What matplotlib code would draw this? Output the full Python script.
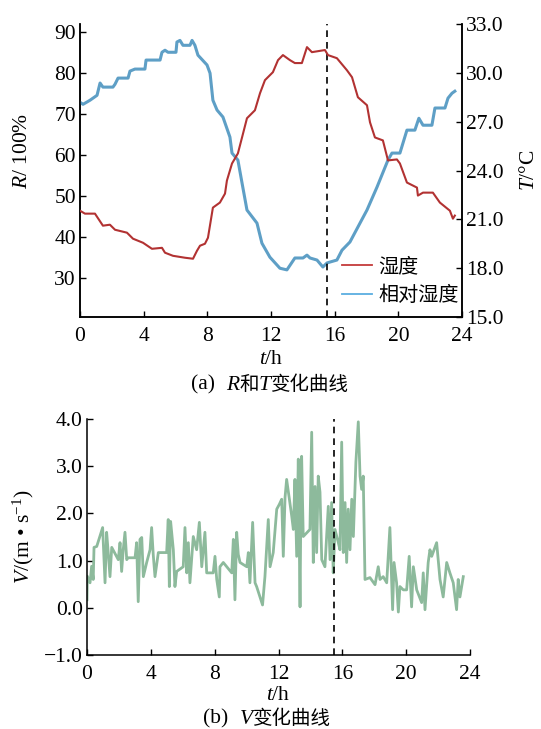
import numpy as np
import matplotlib.pyplot as plt
from matplotlib.offsetbox import TextArea, HPacker, AnchoredOffsetbox

plt.rcParams['font.family'] = ['Liberation Serif', 'Noto Sans CJK SC']
plt.rcParams['mathtext.fontset'] = 'custom'
plt.rcParams['mathtext.rm'] = 'Liberation Serif'
plt.rcParams['mathtext.it'] = 'Liberation Serif:italic'

# ---- data ----
# relative humidity R (left axis)
t_R = [0, 0.19, 0.63, 1.07, 1.26, 1.44, 2.07, 2.20, 2.39, 3.02, 3.14, 3.45, 4.08, 4.15,
       5.03, 5.15, 5.34, 5.53, 6.03, 6.09, 6.28, 6.47, 6.91, 7.04, 7.22, 7.41, 7.98, 8.17,
       8.35, 8.61, 8.98, 9.42, 9.55, 9.92, 10.18, 10.49, 11.12, 11.43, 11.93, 12.56, 13.00,
       13.50, 14.01, 14.26, 14.45, 14.89, 15.26, 15.52, 16.14, 16.46, 16.96, 17.59, 18.03,
       18.66, 19.35, 19.60, 20.10, 20.54, 21.04, 21.29, 21.55, 22.11, 22.30, 22.93, 23.12,
       23.37, 23.55]
R = [72.9, 72.4, 73.4, 74.6, 77.6, 76.6, 76.6, 77.3, 78.8, 78.8, 80.5, 81.0, 81.0, 83.2,
     83.2, 85.1, 85.6, 85.1, 85.1, 87.6, 88.0, 86.8, 86.8, 88.0, 86.8, 84.4, 82.0, 80.0,
     73.4, 71.0, 69.3, 64.4, 60.5, 58.8, 53.2, 46.6, 43.4, 38.5, 35.1, 32.4, 32.0,
     34.9, 34.9, 35.6, 34.9, 34.4, 32.7, 33.7, 34.4, 36.8, 38.8, 43.4, 46.6,
     52.2, 58.8, 60.5, 60.5, 66.1, 66.1, 69.0, 67.3, 67.3, 71.5, 71.5, 73.9,
     75.1, 75.6]

# temperature T (right axis)
t_T = [0, 0.31, 0.94, 1.44, 1.88, 2.20, 2.95, 3.33, 3.96, 4.52, 5.15, 5.34, 5.84, 6.60,
       7.10, 7.35, 7.54, 7.85, 8.04, 8.35, 8.79, 9.11, 9.23, 9.55, 9.92, 10.18, 10.49,
       10.99, 11.31, 11.62, 12.12, 12.44, 12.75, 13.19, 13.50, 13.94, 14.26, 14.57, 15.39,
       15.58, 16.14, 16.77, 17.09, 17.46, 18.03, 18.22, 18.53, 19.03, 19.35, 19.91, 20.10,
       20.54, 21.17, 21.23, 21.55, 22.17, 22.61, 23.24, 23.43, 23.55]
T = [21.53, 21.35, 21.35, 20.61, 20.67, 20.36, 20.18, 19.81, 19.56, 19.19, 19.25, 18.95,
     18.76, 18.64, 18.58, 19.07, 19.38, 19.50, 19.87, 21.72, 22.03, 22.58, 23.38, 24.43,
     25.05, 26.03, 27.21, 27.70, 28.75, 29.55, 30.04, 30.78, 31.09, 30.78, 30.60, 30.60,
     31.58, 31.27, 31.40, 31.09, 30.90, 30.16, 29.73, 28.50, 28.01, 26.96, 26.03, 25.85,
     24.62, 24.68, 24.43, 23.26, 22.95, 22.46, 22.64, 22.64, 22.03, 21.53, 21.04, 21.23]

# wind speed V
t_V = [0.0, 0.02, 0.19, 0.29, 0.39, 0.44, 0.61, 0.98, 1.13, 1.23, 1.33, 1.44, 1.55, 1.96,
       2.07, 2.17, 2.27, 2.38, 2.49, 2.57, 3.01, 3.11, 3.21, 3.32, 3.43, 3.53, 3.74, 3.95,
       4.05, 4.15, 4.26, 4.47, 4.99, 5.09, 5.16, 5.24, 5.41, 5.51, 5.62, 6.03, 6.14, 6.25,
       6.35, 6.45, 6.66, 6.87, 7.04, 7.19, 7.39, 7.50, 7.91, 8.02, 8.13, 8.29, 8.33, 8.54,
       9.07, 9.17, 9.27, 9.38, 9.48, 9.59, 10.01, 10.11, 10.21, 10.38, 10.53, 10.63, 11.0,
       11.15, 11.36, 11.47, 11.67, 11.89, 12.05, 12.20, 12.30, 12.41, 12.51, 12.83, 12.93,
       13.03, 13.14, 13.24, 13.35, 13.39, 13.45, 13.55, 13.97, 14.08, 14.18, 14.29, 14.39,
       14.49, 14.60, 14.71, 14.91, 15.12, 15.23, 15.33, 15.43, 15.54, 15.75, 15.85, 15.96,
       16.06, 16.17, 16.27, 16.37, 16.48, 16.59, 16.69, 16.85, 17.0, 17.11, 17.21, 17.31,
       17.42, 17.73, 18.05, 18.25, 18.36, 18.56, 18.78, 18.98, 19.15, 19.24, 19.40, 19.51,
       19.61, 19.82, 20.03, 20.19, 20.34, 20.45, 20.66, 20.97, 21.07, 21.18, 21.38, 21.49,
       21.60, 21.91, 22.12, 22.32, 22.54, 22.74, 22.95, 23.16, 23.26, 23.37, 23.58]
V = [0.17, 0.67, 0.53, 0.88, 0.60, 1.28, 1.30, 1.70, 0.53, 1.60, 1.17, 0.66, 1.28, 1.02,
     1.38, 0.77, 1.23, 1.60, 1.02, 1.06, 1.06, 1.38, 0.13, 1.45, 1.49, 0.66, 0.96, 1.23,
     1.70, 1.13, 0.66, 1.17, 1.17, 1.87, 0.45, 1.83, 1.23, 0.45, 0.77, 0.87, 1.70, 0.74,
     1.38, 0.53, 1.51, 1.23, 1.81, 0.87, 1.60, 0.74, 0.74, 1.09, 0.60, 0.23, 0.87, 0.96,
     0.74, 1.45, 0.17, 1.60, 1.13, 0.96, 0.87, 1.17, 0.53, 1.81, 0.53, 0.45, 0.06,
     0.66, 1.87, 0.87, 1.17, 2.09, 2.19, 2.30, 1.09, 2.34, 2.72, 1.94, 1.66,
     2.72, 1.09, 3.15, 0.02, 1.66, 3.21, 1.51, 1.66, 3.72, 0.96, 2.57, 1.17,
     2.79, 2.45, 1.02, 0.87, 2.15, 1.02, 2.23, 0.74, 1.66, 1.38, 1.23, 3.51,
     1.17, 2.23, 0.96, 2.09, 1.23, 2.30, 1.51, 3.09, 3.94, 2.79, 2.51, 2.79,
     0.60, 0.64, 0.49, 0.87, 0.60, 0.66, 0.53, 1.70, -0.04, 0.96, 0.53, -0.09,
     0.45, 0.38, 0.38, 1.09, 0.02, 0.87, 0.38, 0.11, 0.74, -0.04, 0.96, 1.23,
     1.09, 1.38, 0.60, 0.23, 0.96, 0.74, 0.53, -0.04, 0.60, 0.23, 0.66]

t_mark = 15.5
x_ticks = [0, 4, 8, 12, 16, 20, 24]
R_ticks = [30, 40, 50, 60, 70, 80, 90]
T_ticks = [15.0, 18.0, 21.0, 24.0, 27.0, 30.0, 33.0]
V_ticks = [-1.0, 0.0, 1.0, 2.0, 3.0, 4.0]

RED = '#b23232'
BLUE = '#5e9fc6'
GREEN = '#8dba9c'
FS = 15.5

W, H = 541, 729
fig = plt.figure(figsize=(W / 100, H / 100), dpi=100)


def style(ax):
    ax.tick_params(direction='in', length=4, width=1, labelsize=FS, pad=3)
    ax.tick_params(axis='x', pad=7)
    for s in ax.spines.values():
        s.set_linewidth(1.1)


# ---- (a) ----
ax1 = fig.add_axes([80 / W, 1 - 317 / H, (462 - 80) / W, (317 - 24) / H])
ax1.plot(t_R, R, color=BLUE, lw=2.2, zorder=3)
ax1.set_xlim(0, 24)
ax1.set_ylim(20.5, 92)
ax1.set_xticks(x_ticks)
ax1.set_yticks(R_ticks)
ax1.spines['top'].set_visible(False)
style(ax1)
ax1.set_ylabel('$R$/ 100%', fontsize=FS)
ax1.yaxis.set_label_coords(-0.125, 0.567)
ax1.set_xlabel('$t$/h', fontsize=FS, labelpad=3)
ax1.axvline(t_mark, color='black', lw=1.2, ls=(0, (4, 3)), zorder=4)

ax2 = ax1.twinx()
ax2.plot(t_T, T, color=RED, lw=1.5, zorder=3)
ax2.set_ylim(15, 33)
ax2.set_yticks(T_ticks)
ax2.set_yticklabels(['%.1f' % v for v in T_ticks])
ax2.spines['top'].set_visible(False)
style(ax2)
ax2.set_ylabel('$T$/°C', fontsize=FS, rotation=90)
ax2.yaxis.set_label_coords(1.152, 0.5)

h1, = ax2.plot([], [], color='#c43a3a', lw=1.3)
h2, = ax2.plot([], [], color='#5aaee0', lw=1.3)
ax2.legend([h1, h2], ['湿度', '相对湿度'], loc='upper left',
           bbox_to_anchor=((342 - 80) / (462 - 80), 1 - (258 - 24) / (317 - 24)),
           frameon=False, fontsize=14.5, handlelength=1.5, handletextpad=0.3,
           labelspacing=0.45, borderpad=0, borderaxespad=0)

# ---- (b) ----
ax3 = fig.add_axes([87 / W, 1 - 655 / H, (470 - 87) / W, (655 - 419) / H])
ax3.plot(t_V, V, color=GREEN, lw=2.0)
ax3.axvline(t_mark, color='black', lw=1.2, ls=(0, (4, 3)), zorder=4)
ax3.set_xlim(0, 24)
ax3.set_ylim(-1, 4)
ax3.set_xticks(x_ticks)
ax3.set_yticks(V_ticks)
ax3.set_yticklabels(['−1.0' if v < 0 else '%.1f' % v for v in V_ticks])
ax3.spines['top'].set_visible(False)
ax3.spines['right'].set_visible(False)
style(ax3)
ax3.set_ylabel('$V$/(m • s$^{-1}$)', fontsize=FS, labelpad=6)
ax3.set_xlabel('$t$/h', fontsize=FS, labelpad=2)


def caption(parts, x, y):
    boxes = []
    for txt, kw in parts:
        p = dict(fontsize=15.5, color='black')
        p.update(kw)
        boxes.append(TextArea(txt, textprops=p))
    pack = HPacker(children=boxes, align='baseline', pad=0, sep=0)
    box = AnchoredOffsetbox(loc='center', child=pack, frameon=False, pad=0, borderpad=0,
                            bbox_to_anchor=(x / W, 1 - y / H),
                            bbox_transform=fig.transFigure)
    fig.add_artist(box)


serif = dict(family='Liberation Serif')
serif_it = dict(family='Liberation Serif', style='italic')
cjk = dict(family='Noto Sans CJK SC', fontsize=14)
caption([('(a)  ', serif), ('R', serif_it), ('和', cjk), ('T', serif_it), ('变化曲线', cjk)],
        270, 384)
caption([('(b)  ', serif), ('V', serif_it), ('变化曲线', cjk)], 267, 718)

fig.savefig('out.png', dpi=100)
